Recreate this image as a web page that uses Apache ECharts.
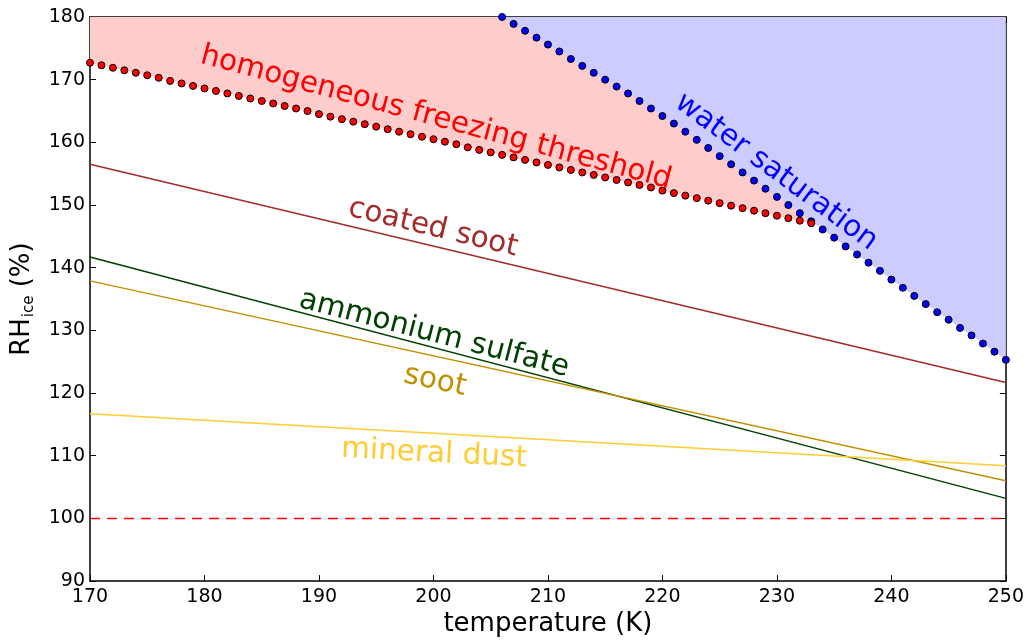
<!DOCTYPE html>
<html><head><meta charset="utf-8">
<script src="https://cdn.jsdelivr.net/npm/echarts@6/dist/echarts.min.js"></script>
<style>html,body{margin:0;padding:0;background:#fff;overflow:hidden}#c{width:1027px;height:642px}</style>
</head><body><div id="c"></div>
<script>
// ---- data ----
const lineT = [170, 250];
const coatedSoot = [156.5, 121.7];
const ammoniumSulfate = [141.7, 103.2];
const soot = [137.9, 106.0];
const mineralDust = [116.7, 108.4];
const iceSaturation = [100, 100];

const homogT = [170,171,172,173,174,175,176,177,178,179,180,181,182,183,184,185,186,187,188,189,
  190,191,192,193,194,195,196,197,198,199,200,201,202,203,204,205,206,207,208,209,
  210,211,212,213,214,215,216,217,218,219,220,221,222,223,224,225,226,227,228,229,
  230,231,232,233];
const homogRH = [172.7,172.3,171.9,171.5,171.1,170.7,170.3,169.8,169.4,169.0,
  168.6,168.2,167.8,167.4,167.0,166.6,166.2,165.8,165.4,165.0,
  164.5,164.1,163.7,163.3,162.9,162.5,162.1,161.7,161.3,160.9,
  160.5,160.1,159.7,159.2,158.8,158.4,158.0,157.6,157.2,156.8,
  156.4,156.0,155.6,155.2,154.8,154.4,154.0,153.6,153.2,152.8,
  152.3,151.9,151.5,151.1,150.7,150.3,149.9,149.5,149.1,148.7,
  148.3,147.9,147.5,147.1];

const waterT = [206,207,208,209,210,211,212,213,214,215,216,217,218,219,220,221,222,223,224,225,
  226,227,228,229,230,231,232,233,234,235,236,237,238,239,240,241,242,243,244,245,
  246,247,248,249,250];
const waterRH = [180.0,178.9,177.8,176.7,175.6,174.5,173.3,172.2,171.1,170.0,
  168.9,167.8,166.6,165.4,164.2,163.0,161.7,160.4,159.1,157.8,
  156.5,155.2,153.9,152.6,151.3,150.0,148.7,147.4,146.1,144.8,
  143.4,142.1,140.8,139.5,138.1,136.8,135.5,134.2,132.9,131.7,
  130.4,129.2,127.9,126.6,125.3];

const labelTexts = ['homogeneous freezing threshold','water saturation','coated soot','ammonium sulfate','soot','mineral dust'];
const xAxisTitle = 'temperature (K)';

// ---- chart ----
const pair = (xs, ys) => xs.map((x, i) => [x, ys[i]]);
const FONT = 'DejaVu Sans';
const chart = echarts.init(document.getElementById('c'), null, {renderer: 'canvas', width: 1027, height: 642});

const axisCommon = {
  type: 'value',
  axisLine: {show: true, onZero: false, lineStyle: {color: '#000', width: 1.5}},
  axisTick: {show: true, inside: true, length: 6, lineStyle: {color: '#000', width: 1}},
  splitLine: {show: false}
};

const straight = (name, ys, color, extra) => Object.assign({
  name, type: 'line', data: pair(lineT, ys), symbol: 'none', z: 4,
  lineStyle: {color, width: 1.5}, silent: true
}, extra || {});

const option = {
  animation: false,
  backgroundColor: '#fff',
  grid: {left: 90, right: 21, top: 17, bottom: 58, containLabel: false},
  xAxis: [
    Object.assign({}, axisCommon, {min: 170, max: 250, interval: 10, position: 'bottom',
      name: xAxisTitle, nameLocation: 'middle', nameGap: 42,
      nameTextStyle: {fontFamily: FONT, fontSize: 26, color: '#000', verticalAlign: 'middle'},
      axisLabel: {fontFamily: FONT, fontSize: 19, color: '#000', margin: 6}}),
    Object.assign({}, axisCommon, {min: 170, max: 250, interval: 10, position: 'top',
      axisLabel: {show: false}})
  ],
  yAxis: [
    Object.assign({}, axisCommon, {min: 90, max: 180, interval: 10, position: 'left',
      name: '{a|RH}{b|ice}{a| (%)}', nameLocation: 'middle', nameGap: 68, nameRotate: 90,
      nameTextStyle: {verticalAlign: 'middle', color: '#000',
        rich: {a: {fontFamily: FONT, fontSize: 26, color: '#000', lineHeight: 30},
               b: {fontFamily: FONT, fontSize: 15, color: '#000', lineHeight: 30, verticalAlign: 'bottom', padding: [0, 0, 0, 1]}}},
      axisLabel: {fontFamily: FONT, fontSize: 19, color: '#000', margin: 5}}),
    Object.assign({}, axisCommon, {min: 90, max: 180, interval: 10, position: 'right',
      axisLabel: {show: false}})
  ],
  series: [
    {name: 'homog area', type: 'line', data: pair(homogT, homogRH), symbol: 'none', z: 1,
      lineStyle: {opacity: 0}, areaStyle: {color: '#ffcccc', opacity: 1, origin: 'end'}, silent: true},
    {name: 'water area', type: 'line', data: pair(waterT, waterRH), symbol: 'none', z: 2,
      lineStyle: {opacity: 0}, areaStyle: {color: '#ccccff', opacity: 1, origin: 'end'}, silent: true},
    straight('coated soot', coatedSoot, '#a52a2a'),
    straight('ammonium sulfate', ammoniumSulfate, '#004000'),
    straight('soot', soot, '#c09000'),
    straight('mineral dust', mineralDust, '#ffcc33'),
    straight('ice saturation', iceSaturation, '#ff0000', {lineStyle: {color: '#ff0000', width: 1.5, type: [10, 7]}}),
    {name: 'water saturation', type: 'scatter', data: pair(waterT, waterRH), symbol: 'circle', symbolSize: 7, z: 5,
      itemStyle: {color: '#0000ff', borderColor: '#000', borderWidth: 1, opacity: 1}, silent: true},
    {name: 'homogeneous freezing', type: 'scatter', data: pair(homogT, homogRH), symbol: 'circle', symbolSize: 7, z: 6,
      itemStyle: {color: '#ff0000', borderColor: '#000', borderWidth: 1, opacity: 1}, silent: true}
  ]
};
chart.setOption(option);

const labelStyle = [
  {x: 436, y: 118, rot: 15, color: '#ff0000'},
  {x: 776, y: 172, rot: 36.5, color: '#0000ff'},
  {x: 433, y: 228, rot: 13.5, color: '#a52a2a'},
  {x: 434, y: 334, rot: 14.5, color: '#004000'},
  {x: 435, y: 381, rot: 12, color: '#c09000'},
  {x: 434, y: 454, rot: 3, color: '#ffcc33'}
];
chart.setOption({
  graphic: labelTexts.map((t, i) => ({
    type: 'text', x: labelStyle[i].x, y: labelStyle[i].y, z: 100,
    rotation: -labelStyle[i].rot * Math.PI / 180,
    style: {text: t, fill: labelStyle[i].color, font: '29.5px "DejaVu Sans"', align: 'center', verticalAlign: 'middle'}
  }))
});
</script>
</body></html>
